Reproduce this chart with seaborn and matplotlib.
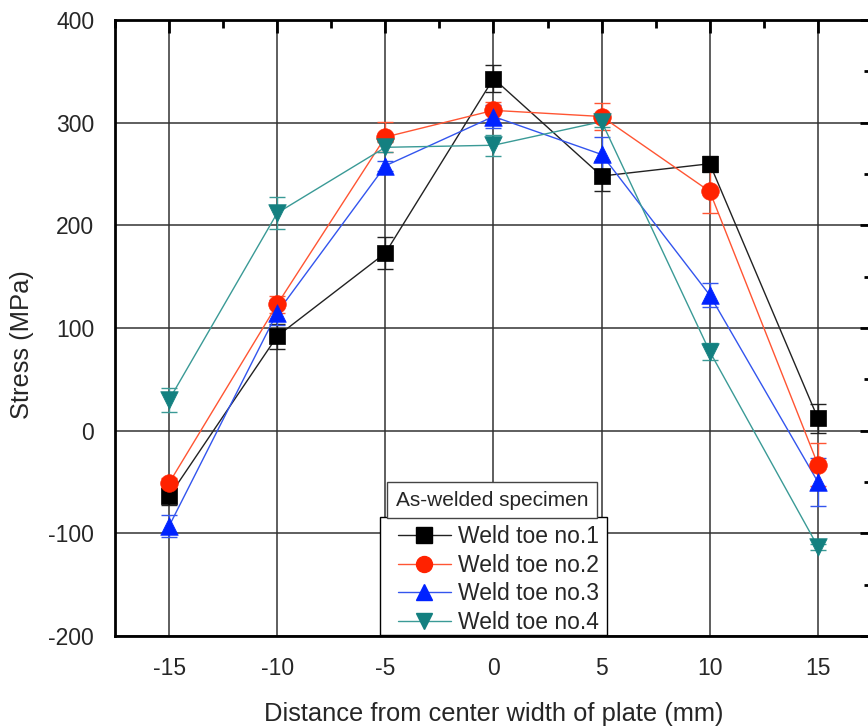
import numpy as np
import pandas as pd
import matplotlib
matplotlib.use("Agg")
import matplotlib.pyplot as plt
import seaborn as sns
from matplotlib.lines import Line2D
from matplotlib.patches import Rectangle
from matplotlib.ticker import MultipleLocator

# ---- data ----
x_mm = [-15, -10, -5, 0, 5, 10, 15]
series_names = ["Weld toe no.1", "Weld toe no.2", "Weld toe no.3", "Weld toe no.4"]
toe1 = [-64, 92, 173, 343, 248, 260, 12]
toe1_err = [8, 12, 16, 13, 15, 8, 14]
toe2 = [-51, 123, 286, 312, 306, 233, -33]
toe2_err = [5, 8, 15, 8, 13, 21, 21]
toe3 = [-93, 115, 258, 306, 269, 132, -50]
toe3_err = [11, 12, 5, 11, 17, 12, 23]
toe4 = [30, 212, 276, 278, 301, 77, -113]
toe4_err = [12, 16, 5, 10, 5, 8, 3]
legend_title = "As-welded specimen"
x_label = "Distance from center width of plate (mm)"
y_label = "Stress (MPa)"

colors = ["#000000", "#FF2200", "#0022FF", "#138080"]
markers = ["s", "o", "^", "v"]
line_colors = ["#222222", "#FF5533", "#3355EE", "#3A9A96"]

values = [toe1, toe2, toe3, toe4]
errs = [toe1_err, toe2_err, toe3_err, toe4_err]

df = pd.DataFrame({
    "x": np.tile(x_mm, 4),
    "y": np.concatenate(values),
    "series": np.repeat(series_names, len(x_mm)),
})

sns.set_style("white")
plt.rcParams["font.family"] = ["Liberation Sans", "DejaVu Sans"]
plt.rcParams["axes.unicode_minus"] = False

W, H = 868, 726
fig = plt.figure(figsize=(W / 100, H / 100), dpi=100)
AX_L, AX_R, AX_T, AX_B = 115, 872, 20, 636
ax = fig.add_axes([AX_L / W, (H - AX_B) / H, (AX_R - AX_L) / W, (AX_B - AX_T) / H])

ax.set_xlim(-17.5, 17.5)
ax.set_ylim(-200, 400)
ax.xaxis.set_major_locator(MultipleLocator(5))
ax.xaxis.set_minor_locator(MultipleLocator(2.5))
ax.yaxis.set_major_locator(MultipleLocator(100))
ax.yaxis.set_minor_locator(MultipleLocator(50))
ax.grid(True, which="major", color="#333333", linewidth=1.1, zorder=0)
ax.set_axisbelow(True)

# error bars
for i, (v, e) in enumerate(zip(values, errs)):
    ax.errorbar(x_mm, v, yerr=e, fmt="none", ecolor=line_colors[i],
                elinewidth=1.0, capsize=5.5, capthick=1.0, zorder=2)

# lines with seaborn
sns.lineplot(data=df, x="x", y="y", hue="series", style="series",
             palette=dict(zip(series_names, line_colors)),
             markers=dict(zip(series_names, markers)), dashes=False,
             linewidth=1.0, markersize=0, legend=False, ax=ax, zorder=3)
# markers
for i, v in enumerate(values):
    sub = df[df["series"] == series_names[i]]
    sns.scatterplot(data=sub, x="x", y="y", marker=markers[i], color=colors[i],
                    s=160 if markers[i] != "s" else 145, edgecolor=colors[i],
                    linewidth=0.5, ax=ax, zorder=4, legend=False)

for sp in ax.spines.values():
    sp.set_linewidth(2.0)
    sp.set_color("black")
    sp.set_visible(True)

ax.tick_params(axis="both", which="major", direction="out", length=9, width=2,
               labelsize=16.5, color="black", pad=6)
ax.tick_params(axis="both", which="minor", direction="out", length=5.5, width=2,
               color="black")
ax.tick_params(top=True, right=True, which="both")
for t in ax.xaxis.get_major_ticks() + ax.xaxis.get_minor_ticks():
    t.tick2line.set_marker(3)
for t in ax.yaxis.get_major_ticks() + ax.yaxis.get_minor_ticks():
    t.tick2line.set_marker(0)

ax.set_xlabel(x_label, fontsize=18.4, labelpad=16)
ax.set_ylabel(y_label, fontsize=18.4)
ax.yaxis.set_label_coords((34 - AX_L) / (AX_R - AX_L), (AX_B - 345) / (AX_B - AX_T))


def fx(px):
    return (px - AX_L) / (AX_R - AX_L)


def fy(py):
    return (AX_B - py) / (AX_B - AX_T)


# legend frame (drawn as a patch) + legend entries
frame = Rectangle((fx(380), fy(635)), fx(607) - fx(380), fy(517) - fy(635),
                  transform=ax.transAxes, facecolor="white", edgecolor="black",
                  linewidth=1.0, zorder=9, clip_on=False)
ax.add_patch(frame)

handles = [Line2D([0], [0], color=line_colors[i], lw=1.0, marker=markers[i],
                  markersize=11.5, markerfacecolor=colors[i],
                  markeredgecolor=colors[i]) for i in range(4)]
leg = ax.legend(handles, series_names, loc="lower left",
                bbox_to_anchor=(fx(398), fy(634)),
                fontsize=16.5, frameon=False, handlelength=2.3, handletextpad=0.3,
                labelspacing=0.25, borderpad=0, borderaxespad=0)
leg.set_zorder(10)

fig.text(492 / W, 1 - 500 / H, legend_title, fontsize=15, ha="center", va="center",
         bbox=dict(boxstyle="square,pad=0.4", facecolor="white",
                   edgecolor="#444444", linewidth=1.0), zorder=11)

fig.savefig("out.png", dpi=100)
